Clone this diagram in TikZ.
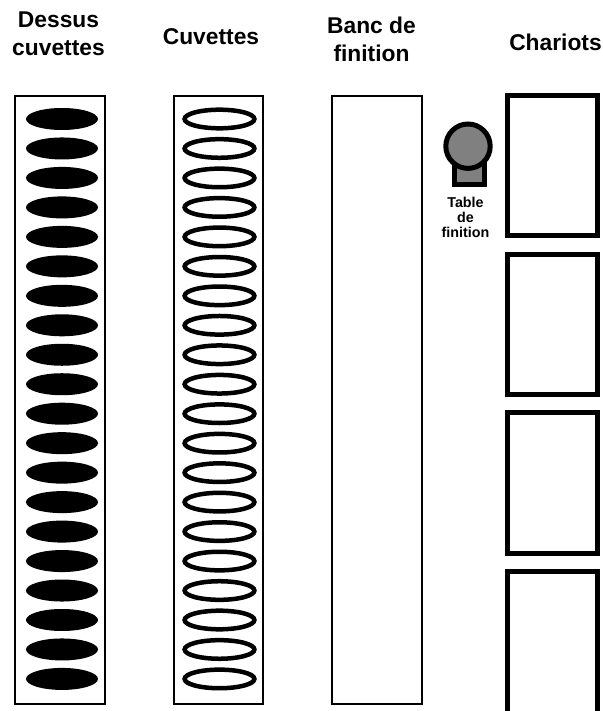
\documentclass[tikz,border=0pt]{standalone}
\usepackage{fontspec}
\setmainfont{Liberation Sans}
\definecolor{tablegray}{HTML}{808080}
\tikzset{
  heading/.style={font=\fontsize{22.8}{28}\selectfont\bfseries, align=center, inner sep=0pt},
  smalllabel/.style={font=\fontsize{14.3}{15}\selectfont\bfseries, align=center, inner sep=0pt},
  bench/.style={draw=black, fill=white, line width=2pt},
  chariot/.style={draw=black, fill=white, line width=5pt},
  cuvette/.style={draw=black, fill=white, line width=4.5pt},
  cover/.style={fill=black}
}
\begin{document}
\begin{tikzpicture}[x=1pt, y=-1pt]
  \useasboundingbox (0,0) rectangle (602,711);

  % Titres
  \node[heading] (titledessus) at (58.5,34) {Dessus\\cuvettes};
  \node[heading] (titlecuvettes) at (211,37) {Cuvettes};
  \node[heading] (titlebanc) at (371.5,39.5) {Banc de\\finition};
  \node[heading] (titlechariots) at (555.5,42) {Chariots};

  % Bancs
  \draw[bench] (14.5,96.5) rectangle (105,703.5);
  \draw[bench] (173.5,96.5) rectangle (263,703.5);
  \draw[bench] (332,96.5) rectangle (422,703.5);

  % Dessus de cuvettes et cuvettes
  \foreach \i in {0,...,19} {
    \fill[cover] (62,119+29.47*\i) ellipse (36 and 11);
    \draw[cuvette] (219.5,119+29.47*\i) ellipse (34.9 and 9.3);
  }

  % Table de finition
  \draw[line width=5pt, fill=tablegray] (454.5,160) rectangle (484.5,184.8);
  \draw[line width=5pt, fill=tablegray] (468,146.2) circle (22.2);
  \node[smalllabel] (tablelabel) at (465.5,217) {Table\\de\\finition};

  % Chariots
  \draw[chariot] (507.5,95.2) rectangle (597,235.8);
  \draw[chariot] (507.5,254) rectangle (597,394.4);
  \draw[chariot] (507.5,412.7) rectangle (597,553.2);
  \draw[chariot] (507.5,571.5) rectangle (597,714);
\end{tikzpicture}
\end{document}
